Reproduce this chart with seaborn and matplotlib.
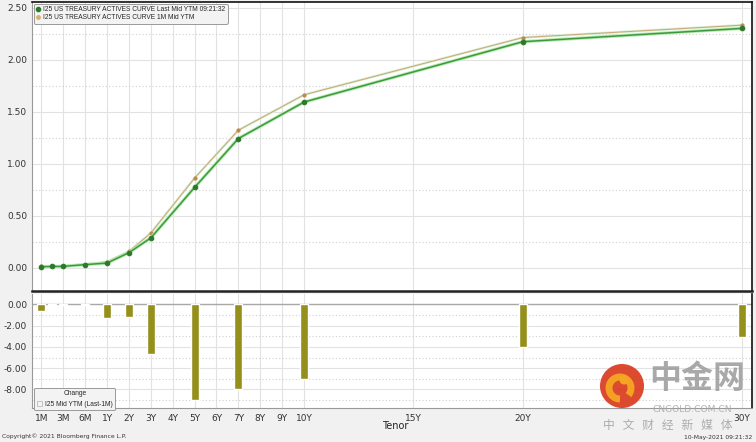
import numpy as np
import pandas as pd
import matplotlib
matplotlib.use("Agg")
import matplotlib.pyplot as plt
from matplotlib.lines import Line2D
from matplotlib.patches import Patch, Circle, Arc
from matplotlib.ticker import MultipleLocator
import seaborn as sns

# Tenor points of the curve and their position on the (year based) x axis
tenors = ["1M", "2M", "3M", "6M", "1Y", "2Y", "3Y", "5Y", "7Y", "10Y", "20Y", "30Y"]
tenor_pos = [-2, -1.5, -1, 0, 1, 2, 3, 5, 7, 10, 20, 30]

# Mid yield to maturity, %
last_ytm = [0.010, 0.012, 0.013, 0.030, 0.045, 0.145, 0.287, 0.773, 1.243, 1.594, 2.175, 2.303]
ytm_1m = [0.017, 0.013, 0.014, 0.031, 0.058, 0.157, 0.334, 0.863, 1.323, 1.664, 2.215, 2.334]

# Change Last - 1M, bp
chg_bp = [-0.66, -0.10, -0.10, -0.10, -1.25, -1.22, -4.67, -8.96, -7.98, -6.98, -3.98, -3.04]

# Axis tick labels
xtick_labels = ["1M", "3M", "6M", "1Y", "2Y", "3Y", "4Y", "5Y", "6Y", "7Y", "8Y", "9Y",
                "10Y", "15Y", "20Y", "30Y"]
xtick_pos = [-2, -1, 0, 1, 2, 3, 4, 5, 6, 7, 8, 9, 10, 15, 20, 30]

df = pd.DataFrame({"tenor": tenors, "pos": tenor_pos, "last": last_ytm,
                   "prev": ytm_1m, "chg": chg_bp})

sns.set_style("white")
plt.rcParams["font.family"] = ["DejaVu Sans"]

GREEN = "#3c9a3c"
GREEN_DARK = "#2a7a2a"
TAN = "#c9a676"
OLIVE = "#958f1c"
GRID = "#e2e2e2"
TICK = "#333333"
SMALL_FONT = ["Liberation Sans", "DejaVu Sans"]
CJK = ["Noto Sans CJK SC", "DejaVu Sans"]

fig = plt.figure(figsize=(7.56, 4.42), dpi=100, facecolor="#f1f1f1")
W, H = 756, 442


def px_axes(x0, y0, x1, y1):
    return fig.add_axes([x0 / W, 1 - y1 / H, (x1 - x0) / W, (y1 - y0) / H])


ax1 = px_axes(32, 2, 752, 291)
ax2 = px_axes(32, 294, 752, 408)

xlim = (-2.43, 30.47)

for ax in (ax1, ax2):
    ax.set_facecolor("white")
    ax.set_xlim(*xlim)
    ax.set_xticks(xtick_pos)
    for p in xtick_pos:
        ax.axvline(p, color=GRID, linewidth=0.8, zorder=0)
    ax.tick_params(axis="y", direction="out", length=2.5, width=0.8, color=TICK,
                   labelsize=6.5, labelcolor=TICK, pad=1)
    ax.yaxis.set_major_formatter(matplotlib.ticker.FormatStrFormatter("%.2f"))
    ax.grid(False)
    ax.spines["left"].set_color("#999999")
    ax.spines["left"].set_linewidth(0.8)
    ax.spines["right"].set_color("#111111")
    ax.spines["right"].set_linewidth(1.2)

# ---- top panel: yield curves ----
ax1.set_ylim(-0.224, 2.557)
ax1.yaxis.set_major_locator(MultipleLocator(0.5))
for v in np.arange(0, 2.51, 0.5):
    ax1.axhline(v, color=GRID, linewidth=0.8, zorder=0)
for v in np.arange(0.25, 2.5, 0.5):
    ax1.axhline(v, color="#cfcfcf", linewidth=0.8, linestyle=(0, (1, 2)), zorder=0)

sns.lineplot(data=df, x="pos", y="prev", ax=ax1, color="#d8f0d2", linewidth=1.8,
             zorder=2, legend=False)
sns.lineplot(data=df, x="pos", y="prev", ax=ax1, color=TAN, linewidth=0.7,
             marker="o", markersize=2.3, markerfacecolor="#c08850",
             markeredgecolor="#c08850", zorder=3, legend=False)
sns.lineplot(data=df, x="pos", y="last", ax=ax1, color="#b8eab2", linewidth=2.4,
             zorder=4, legend=False)
sns.lineplot(data=df, x="pos", y="last", ax=ax1, color=GREEN, linewidth=1.1,
             marker="o", markersize=3.3, markerfacecolor=GREEN_DARK,
             markeredgecolor=GREEN_DARK, zorder=5, legend=False)

ax1.set_xlabel("")
ax1.set_ylabel("")
ax1.tick_params(axis="x", bottom=False, labelbottom=False)
ax1.spines["top"].set_color("#111111")
ax1.spines["top"].set_linewidth(1.2)
ax1.spines["bottom"].set_color("#222222")
ax1.spines["bottom"].set_linewidth(1.8)

handles = [
    Line2D([], [], linestyle="none", marker="o", markersize=3, color=GREEN_DARK,
           label="I25 US TREASURY ACTIVES CURVE Last Mid YTM 09:21:32"),
    Line2D([], [], linestyle="none", marker="o", markersize=2.5, color="#d6b070",
           label="I25 US TREASURY ACTIVES CURVE 1M Mid YTM"),
]
leg1 = ax1.legend(handles=handles, loc="upper left", bbox_to_anchor=(0.003, 0.993),
                  prop={"family": SMALL_FONT, "size": 4.8}, frameon=True, fancybox=True,
                  handlelength=0.6, handletextpad=0.4, borderpad=0.35,
                  labelspacing=0.15, borderaxespad=0)
leg1.get_frame().set_facecolor("#f3f3f3")
leg1.get_frame().set_edgecolor("#9a9a9a")
leg1.get_frame().set_linewidth(0.7)
leg1.get_frame().set_alpha(1)

# ---- bottom panel: change in bp ----
ax2.set_ylim(-9.74, 0.97)
ax2.set_yticks([0, -2, -4, -6, -8])
for v in [-2, -4, -6, -8]:
    ax2.axhline(v, color=GRID, linewidth=0.8, zorder=0)
for v in [-1, -3, -5, -7, -9]:
    ax2.axhline(v, color="#cfcfcf", linewidth=0.8, linestyle=(0, (1, 2)), zorder=0)
ax2.axhline(0, color="#a8a8a8", linewidth=1.0, zorder=1)

sns.barplot(data=df, x="pos", y="chg", ax=ax2, native_scale=True, width=0.72,
            color=OLIVE, saturation=1, zorder=3)
ax2.set_xlim(*xlim)
ax2.set_xticks(xtick_pos)
ax2.set_xticklabels(xtick_labels)
ax2.tick_params(axis="x", bottom=False, labelsize=6.5, labelcolor=TICK, pad=1)
ax2.set_xlabel("")
ax2.set_ylabel("")
ax2.spines["top"].set_visible(False)
ax2.spines["bottom"].set_color("#999999")
ax2.spines["bottom"].set_linewidth(0.8)

leg2 = ax2.legend(handles=[Patch(facecolor="none", edgecolor="#bbbbbb", linewidth=0.6,
                                 label="I25 Mid YTM (Last-1M)")],
                  title="Change", loc="lower left", bbox_to_anchor=(0.003, -0.02),
                  prop={"family": SMALL_FONT, "size": 4.8},
                  title_fontproperties={"family": SMALL_FONT, "size": 4.8},
                  frameon=True, fancybox=True, handlelength=0.8, handleheight=0.8,
                  handletextpad=0.4, borderpad=0.4, borderaxespad=0)
leg2.get_frame().set_facecolor("#f3f3f3")
leg2.get_frame().set_edgecolor("#9a9a9a")
leg2.get_frame().set_linewidth(0.7)
leg2.get_frame().set_alpha(1)

# ---- labels around the chart ----
fig.text(382 / W, 1 - 426 / H, "Tenor", fontsize=7, color="#222222",
         ha="left", va="center")
fig.text(2 / W, 1 - 436 / H, "Copyright\u00a9 2021 Bloomberg Finance L.P.",
         fontsize=4.3, color="#333333", ha="left", va="center")
fig.text(752 / W, 1 - 437 / H, "10-May-2021 09:21:32", fontsize=4.3,
         color="#333333", ha="right", va="center")

# ---- watermark ----
wax = fig.add_axes([0, 0, 1, 1], facecolor="none")
wax.set_xlim(0, W)
wax.set_ylim(H, 0)
wax.axis("off")
wax.add_patch(Circle((622, 386), 22, facecolor="#d93a1e", edgecolor="none", alpha=0.92))
wax.add_patch(Arc((620, 388), 22, 22, theta1=90, theta2=400, color="#f6a623",
                  linewidth=5, alpha=0.95))
wax.add_patch(Circle((624, 380), 4.5, facecolor="#f6a623", edgecolor="none"))
wax.text(697, 379, "中金网", fontsize=23, color="#9a9a9a", alpha=0.85,
         ha="center", va="center", fontweight="bold", family=CJK)
wax.text(692, 410, "CNGOLD.COM.CN", fontsize=6.6, color="#a8a8a8", alpha=0.85,
         ha="center", va="center")
wax.text(668, 425, "中   文   财   经   新   媒   体", fontsize=8.5, color="#a0a0a0",
         alpha=0.85, ha="center", va="center", family=CJK)

fig.savefig("out.png", dpi=100, facecolor=fig.get_facecolor())
